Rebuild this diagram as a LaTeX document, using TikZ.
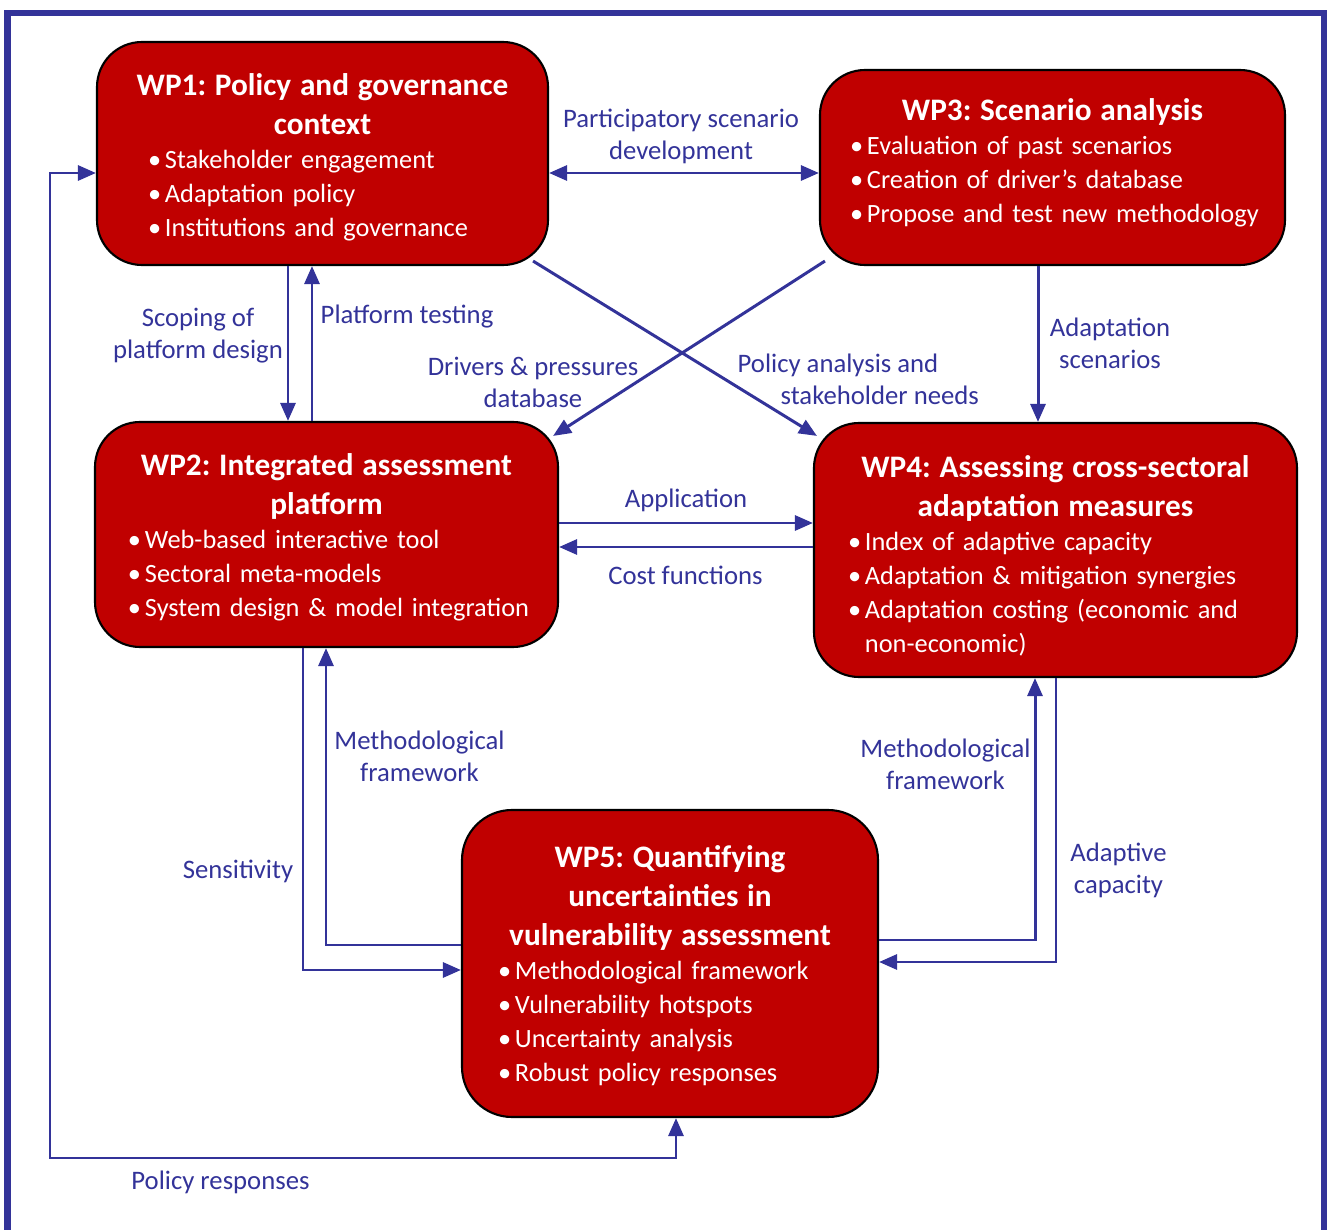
\documentclass[tikz,border=0pt]{standalone}
\usepackage{fontspec}
\setmainfont{Carlito}
\usepackage{xcolor}
\usepackage{tikz}
\usetikzlibrary{arrows.meta,positioning,calc}
\definecolor{wpred}{HTML}{C00000}
\definecolor{wpblue}{HTML}{333399}
\frenchspacing
\newlength{\wphang}
\newlength{\wpindent}
\newcommand{\wptitle}[1]{{\centering\bfseries\fontsize{8.9}{11.1}\selectfont #1\par}}
\newcommand{\wpitems}[1]{\global\setlength{\wpindent}{#1}}
\newcommand{\wpitem}[1]{{\settowidth{\wphang}{\textbullet\ \kern-1.4pt}\leftskip=\wpindent
    \hangindent=\wphang\hangafter=1 \textbullet\ \kern-1.4pt#1\par}}
\tikzset{wp/.style={draw=black,line width=0.6pt,fill=wpred,text=white,rounded corners=0.45cm,
    inner sep=0pt,font=\fontsize{7.5}{9.7}\selectfont}}
\tikzset{lbl/.style={text=wpblue,align=center,inner sep=0pt,font=\fontsize{7.6}{9.1}\selectfont}}

\begin{document}
\begin{tikzpicture}[link/.style={draw=wpblue,line width=0.85pt},
    >={Triangle[length=1.8mm,width=1.5mm]}]
\useasboundingbox (0,0) rectangle (13.27,-12.30);
\draw[wpblue,line width=0.065cm] (0.075,-12.40) |- (13.24,-0.13) -- (13.24,-12.40);

    \node[wp,minimum width=4.51cm,minimum height=2.23cm,text width=4.51cm] (wp1) at (3.225,-1.535)
        {\wptitle{WP1: Policy and governance\\context}\wpitems{0.51cm}
         \wpitem{Stakeholder engagement}\wpitem{Adaptation policy}\wpitem{Institutions and governance}\vspace*{-0.08cm}};
    \node[wp,minimum width=4.65cm,minimum height=1.95cm,text width=4.65cm] (wp3) at (10.525,-1.675)
        {\wptitle{WP3: Scenario analysis}\wpitems{0.30cm}
         \wpitem{Evaluation of past scenarios}\wpitem{Creation of driver’s database}\wpitem{Propose and test new methodology}\vspace*{0.09cm}};
    \node[wp,minimum width=4.63cm,minimum height=2.25cm,text width=4.63cm] (wp2) at (3.265,-5.345)
        {\wptitle{WP2: Integrated assessment\\platform}\wpitems{0.33cm}
         \wpitem{Web-based interactive tool}\wpitem{Sectoral meta-models}\wpitem{System design \& model integration}\vspace*{-0.06cm}};
    \node[wp,minimum width=4.83cm,minimum height=2.54cm,text width=4.83cm] (wp4) at (10.555,-5.50)
        {\wptitle{WP4: Assessing cross-sectoral\\adaptation measures}\wpitems{0.34cm}
         \wpitem{Index of adaptive capacity}\wpitem{Adaptation \& mitigation synergies}
         \wpitem{Adaptation costing (economic and\newline non-economic)}\vspace*{-0.12cm}};
    \node[wp,minimum width=4.16cm,minimum height=3.07cm,text width=4.16cm,rounded corners=0.5cm] (wp5) at (6.70,-9.635)
        {\wptitle{WP5: Quantifying\\uncertainties in\\vulnerability assessment}\wpitems{0.36cm}
         \wpitem{Methodological framework}\wpitem{Vulnerability hotspots}
         \wpitem{Uncertainty analysis}\wpitem{Robust policy responses}\vspace*{-0.04cm}};

    \draw[link,<->] (wp1.east |- 0,-1.73) -- (wp3.west |- 0,-1.73);
    \draw[link,->] (wp1.south -| 2.88,0) -- (wp2.north -| 2.88,0);
    \draw[link,->] (wp2.north -| 3.12,0) -- (wp1.south -| 3.12,0);
    \draw[link,->] ([shift={(-0.16,0.05)}]wp1.south east) -- ([shift={(0.04,-0.14)}]wp4.north west);
    \draw[link,->] ([shift={(0.06,0.05)}]wp3.south west) -- ([shift={(-0.06,-0.15)}]wp2.north east);
    \draw[link,->] (wp3.south -| 10.38,0) -- (wp4.north -| 10.38,0);
    \draw[link,->] (wp2.east |- 0,-5.23) -- (wp4.west |- 0,-5.23);
    \draw[link,->] (wp4.west |- 0,-5.47) -- (wp2.east |- 0,-5.47);
    \draw[link,->] (wp2.south -| 3.03,0) |- (wp5.west |- 0,-9.70);
    \draw[link,->] (wp5.west |- 0,-9.45) -| (wp2.south -| 3.26,0);
    \draw[link,->] (wp5.east |- 0,-9.40) -| (wp4.south -| 10.35,0);
    \draw[link,->] (wp4.south -| 10.56,0) |- (wp5.east |- 0,-9.62);
    \draw[link,<->] (wp1.west |- 0,-1.73) -| (0.50,-11.58) -| (wp5.south -| 6.76,0);

    \node[lbl] (l-part) at (6.81,-1.36) {Participatory scenario\\development};
    \node[lbl] (l-scop) at (1.98,-3.36) {Scoping of\\platform design};
    \node[lbl,anchor=west] (l-test) at (3.20,-3.17) {Platform testing};
    \node[lbl] (l-driv) at (5.33,-3.82) {Drivers \& pressures\\database};
    \node[lbl,align=left,anchor=west] (l-poli) at (7.37,-3.79) {Policy analysis and\\\hspace*{0.43cm}stakeholder needs};
    \node[lbl] (l-scen) at (11.10,-3.43) {Adaptation\\scenarios};
    \node[lbl] (l-appl) at (6.86,-5.00) {Application};
    \node[lbl] (l-cost) at (6.855,-5.75) {Cost functions};
    \node[lbl] (l-sens) at (2.38,-8.71) {Sensitivity};
    \node[lbl] (l-meth2) at (4.195,-7.56) {Methodological\\framework};
    \node[lbl] (l-meth4) at (9.455,-7.64) {Methodological\\framework};
    \node[lbl] (l-adap) at (11.185,-8.70) {Adaptive\\capacity};
    \node[lbl] (l-resp) at (2.205,-11.82) {Policy responses};
\end{tikzpicture}
\end{document}
